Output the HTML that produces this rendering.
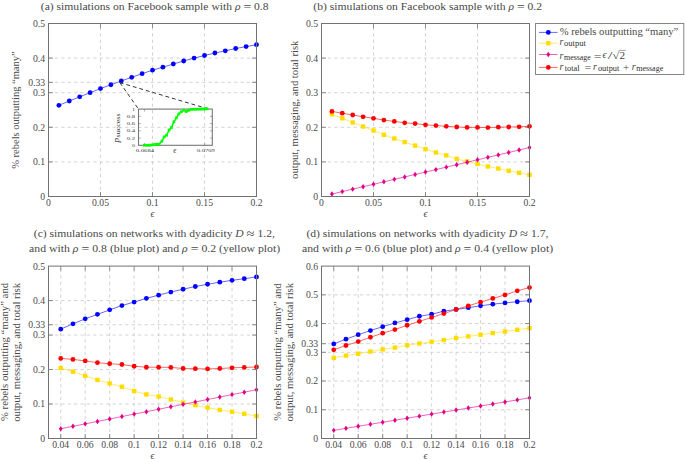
<!DOCTYPE html>
<html><head><meta charset="utf-8"><style>html,body{margin:0;padding:0;background:#fff;width:685px;height:459px;overflow:hidden}svg{display:block}text{font-family:"Liberation Serif",serif}</style></head><body>
<svg width="685" height="459" viewBox="0 0 685 459" font-family='"Liberation Serif", serif' fill="#484848">
<rect width="685" height="459" fill="#fff"/>
<line x1="100.5" y1="196.5" x2="100.5" y2="23.5" stroke="#c8c8c8" stroke-width="0.8" stroke-dasharray="3.2 3.2"/>
<line x1="152.5" y1="196.5" x2="152.5" y2="23.5" stroke="#c8c8c8" stroke-width="0.8" stroke-dasharray="3.2 3.2"/>
<line x1="204.5" y1="196.5" x2="204.5" y2="23.5" stroke="#c8c8c8" stroke-width="0.8" stroke-dasharray="3.2 3.2"/>
<line x1="48.5" y1="161.9" x2="256.5" y2="161.9" stroke="#c8c8c8" stroke-width="0.8" stroke-dasharray="3.2 3.2"/>
<line x1="48.5" y1="127.3" x2="256.5" y2="127.3" stroke="#c8c8c8" stroke-width="0.8" stroke-dasharray="3.2 3.2"/>
<line x1="48.5" y1="92.7" x2="256.5" y2="92.7" stroke="#c8c8c8" stroke-width="0.8" stroke-dasharray="3.2 3.2"/>
<line x1="48.5" y1="82.32" x2="256.5" y2="82.32" stroke="#c8c8c8" stroke-width="0.8" stroke-dasharray="3.2 3.2"/>
<line x1="48.5" y1="58.1" x2="256.5" y2="58.1" stroke="#c8c8c8" stroke-width="0.8" stroke-dasharray="3.2 3.2"/>
<line x1="373.5" y1="196.5" x2="373.5" y2="23.5" stroke="#c8c8c8" stroke-width="0.8" stroke-dasharray="3.2 3.2"/>
<line x1="425.5" y1="196.5" x2="425.5" y2="23.5" stroke="#c8c8c8" stroke-width="0.8" stroke-dasharray="3.2 3.2"/>
<line x1="477.5" y1="196.5" x2="477.5" y2="23.5" stroke="#c8c8c8" stroke-width="0.8" stroke-dasharray="3.2 3.2"/>
<line x1="321.5" y1="161.9" x2="529.5" y2="161.9" stroke="#c8c8c8" stroke-width="0.8" stroke-dasharray="3.2 3.2"/>
<line x1="321.5" y1="127.3" x2="529.5" y2="127.3" stroke="#c8c8c8" stroke-width="0.8" stroke-dasharray="3.2 3.2"/>
<line x1="321.5" y1="92.7" x2="529.5" y2="92.7" stroke="#c8c8c8" stroke-width="0.8" stroke-dasharray="3.2 3.2"/>
<line x1="321.5" y1="58.1" x2="529.5" y2="58.1" stroke="#c8c8c8" stroke-width="0.8" stroke-dasharray="3.2 3.2"/>
<line x1="60.74" y1="438.5" x2="60.74" y2="266.1" stroke="#c8c8c8" stroke-width="0.8" stroke-dasharray="3.2 3.2"/>
<line x1="85.21" y1="438.5" x2="85.21" y2="266.1" stroke="#c8c8c8" stroke-width="0.8" stroke-dasharray="3.2 3.2"/>
<line x1="109.68" y1="438.5" x2="109.68" y2="266.1" stroke="#c8c8c8" stroke-width="0.8" stroke-dasharray="3.2 3.2"/>
<line x1="134.15" y1="438.5" x2="134.15" y2="266.1" stroke="#c8c8c8" stroke-width="0.8" stroke-dasharray="3.2 3.2"/>
<line x1="158.62" y1="438.5" x2="158.62" y2="266.1" stroke="#c8c8c8" stroke-width="0.8" stroke-dasharray="3.2 3.2"/>
<line x1="183.09" y1="438.5" x2="183.09" y2="266.1" stroke="#c8c8c8" stroke-width="0.8" stroke-dasharray="3.2 3.2"/>
<line x1="207.56" y1="438.5" x2="207.56" y2="266.1" stroke="#c8c8c8" stroke-width="0.8" stroke-dasharray="3.2 3.2"/>
<line x1="232.03" y1="438.5" x2="232.03" y2="266.1" stroke="#c8c8c8" stroke-width="0.8" stroke-dasharray="3.2 3.2"/>
<line x1="48.5" y1="404.02" x2="256.5" y2="404.02" stroke="#c8c8c8" stroke-width="0.8" stroke-dasharray="3.2 3.2"/>
<line x1="48.5" y1="369.54" x2="256.5" y2="369.54" stroke="#c8c8c8" stroke-width="0.8" stroke-dasharray="3.2 3.2"/>
<line x1="48.5" y1="335.06" x2="256.5" y2="335.06" stroke="#c8c8c8" stroke-width="0.8" stroke-dasharray="3.2 3.2"/>
<line x1="48.5" y1="324.72" x2="256.5" y2="324.72" stroke="#c8c8c8" stroke-width="0.8" stroke-dasharray="3.2 3.2"/>
<line x1="48.5" y1="300.58" x2="256.5" y2="300.58" stroke="#c8c8c8" stroke-width="0.8" stroke-dasharray="3.2 3.2"/>
<line x1="333.74" y1="438.5" x2="333.74" y2="266.1" stroke="#c8c8c8" stroke-width="0.8" stroke-dasharray="3.2 3.2"/>
<line x1="358.21" y1="438.5" x2="358.21" y2="266.1" stroke="#c8c8c8" stroke-width="0.8" stroke-dasharray="3.2 3.2"/>
<line x1="382.68" y1="438.5" x2="382.68" y2="266.1" stroke="#c8c8c8" stroke-width="0.8" stroke-dasharray="3.2 3.2"/>
<line x1="407.15" y1="438.5" x2="407.15" y2="266.1" stroke="#c8c8c8" stroke-width="0.8" stroke-dasharray="3.2 3.2"/>
<line x1="431.62" y1="438.5" x2="431.62" y2="266.1" stroke="#c8c8c8" stroke-width="0.8" stroke-dasharray="3.2 3.2"/>
<line x1="456.09" y1="438.5" x2="456.09" y2="266.1" stroke="#c8c8c8" stroke-width="0.8" stroke-dasharray="3.2 3.2"/>
<line x1="480.56" y1="438.5" x2="480.56" y2="266.1" stroke="#c8c8c8" stroke-width="0.8" stroke-dasharray="3.2 3.2"/>
<line x1="505.03" y1="438.5" x2="505.03" y2="266.1" stroke="#c8c8c8" stroke-width="0.8" stroke-dasharray="3.2 3.2"/>
<line x1="321.5" y1="409.77" x2="529.5" y2="409.77" stroke="#c8c8c8" stroke-width="0.8" stroke-dasharray="3.2 3.2"/>
<line x1="321.5" y1="381.03" x2="529.5" y2="381.03" stroke="#c8c8c8" stroke-width="0.8" stroke-dasharray="3.2 3.2"/>
<line x1="321.5" y1="352.3" x2="529.5" y2="352.3" stroke="#c8c8c8" stroke-width="0.8" stroke-dasharray="3.2 3.2"/>
<line x1="321.5" y1="343.68" x2="529.5" y2="343.68" stroke="#c8c8c8" stroke-width="0.8" stroke-dasharray="3.2 3.2"/>
<line x1="321.5" y1="323.57" x2="529.5" y2="323.57" stroke="#c8c8c8" stroke-width="0.8" stroke-dasharray="3.2 3.2"/>
<line x1="321.5" y1="294.83" x2="529.5" y2="294.83" stroke="#c8c8c8" stroke-width="0.8" stroke-dasharray="3.2 3.2"/>
<path d="M100.5 196.5v-4.5M100.5 23.5v4.5M152.5 196.5v-4.5M152.5 23.5v4.5M204.5 196.5v-4.5M204.5 23.5v4.5M48.5 161.9h4.5M256.5 161.9h-4.5M48.5 127.3h4.5M256.5 127.3h-4.5M48.5 92.7h4.5M256.5 92.7h-4.5M48.5 82.32h4.5M256.5 82.32h-4.5M48.5 58.1h4.5M256.5 58.1h-4.5" stroke="#727272" stroke-width="0.8" fill="none"/>
<path d="M373.5 196.5v-4.5M373.5 23.5v4.5M425.5 196.5v-4.5M425.5 23.5v4.5M477.5 196.5v-4.5M477.5 23.5v4.5M321.5 161.9h4.5M529.5 161.9h-4.5M321.5 127.3h4.5M529.5 127.3h-4.5M321.5 92.7h4.5M529.5 92.7h-4.5M321.5 58.1h4.5M529.5 58.1h-4.5" stroke="#727272" stroke-width="0.8" fill="none"/>
<path d="M60.74 438.5v-4.5M60.74 266.1v4.5M85.21 438.5v-4.5M85.21 266.1v4.5M109.68 438.5v-4.5M109.68 266.1v4.5M134.15 438.5v-4.5M134.15 266.1v4.5M158.62 438.5v-4.5M158.62 266.1v4.5M183.09 438.5v-4.5M183.09 266.1v4.5M207.56 438.5v-4.5M207.56 266.1v4.5M232.03 438.5v-4.5M232.03 266.1v4.5M48.5 404.02h4.5M256.5 404.02h-4.5M48.5 369.54h4.5M256.5 369.54h-4.5M48.5 335.06h4.5M256.5 335.06h-4.5M48.5 324.72h4.5M256.5 324.72h-4.5M48.5 300.58h4.5M256.5 300.58h-4.5" stroke="#727272" stroke-width="0.8" fill="none"/>
<path d="M333.74 438.5v-4.5M333.74 266.1v4.5M358.21 438.5v-4.5M358.21 266.1v4.5M382.68 438.5v-4.5M382.68 266.1v4.5M407.15 438.5v-4.5M407.15 266.1v4.5M431.62 438.5v-4.5M431.62 266.1v4.5M456.09 438.5v-4.5M456.09 266.1v4.5M480.56 438.5v-4.5M480.56 266.1v4.5M505.03 438.5v-4.5M505.03 266.1v4.5M321.5 409.77h4.5M529.5 409.77h-4.5M321.5 381.03h4.5M529.5 381.03h-4.5M321.5 352.3h4.5M529.5 352.3h-4.5M321.5 343.68h4.5M529.5 343.68h-4.5M321.5 323.57h4.5M529.5 323.57h-4.5M321.5 294.83h4.5M529.5 294.83h-4.5" stroke="#727272" stroke-width="0.8" fill="none"/>
<polyline points="58.9,105.29 69.3,101 79.7,96.85 90.1,92.7 100.5,88.55 110.9,84.74 121.3,80.94 131.7,77.3 142.1,73.67 152.5,70.21 162.9,67.2 173.3,63.98 183.7,61.01 194.1,58.1 204.5,55.5 214.9,53.01 225.3,50.83 235.7,48.52 246.1,46.61 256.5,44.71" fill="none" stroke="#0000ff" stroke-width="0.6"/>
<circle cx="58.9" cy="105.29" r="2.4" fill="#0000ff"/>
<circle cx="69.3" cy="101" r="2.4" fill="#0000ff"/>
<circle cx="79.7" cy="96.85" r="2.4" fill="#0000ff"/>
<circle cx="90.1" cy="92.7" r="2.4" fill="#0000ff"/>
<circle cx="100.5" cy="88.55" r="2.4" fill="#0000ff"/>
<circle cx="110.9" cy="84.74" r="2.4" fill="#0000ff"/>
<circle cx="121.3" cy="80.94" r="2.4" fill="#0000ff"/>
<circle cx="131.7" cy="77.3" r="2.4" fill="#0000ff"/>
<circle cx="142.1" cy="73.67" r="2.4" fill="#0000ff"/>
<circle cx="152.5" cy="70.21" r="2.4" fill="#0000ff"/>
<circle cx="162.9" cy="67.2" r="2.4" fill="#0000ff"/>
<circle cx="173.3" cy="63.98" r="2.4" fill="#0000ff"/>
<circle cx="183.7" cy="61.01" r="2.4" fill="#0000ff"/>
<circle cx="194.1" cy="58.1" r="2.4" fill="#0000ff"/>
<circle cx="204.5" cy="55.5" r="2.4" fill="#0000ff"/>
<circle cx="214.9" cy="53.01" r="2.4" fill="#0000ff"/>
<circle cx="225.3" cy="50.83" r="2.4" fill="#0000ff"/>
<circle cx="235.7" cy="48.52" r="2.4" fill="#0000ff"/>
<circle cx="246.1" cy="46.61" r="2.4" fill="#0000ff"/>
<circle cx="256.5" cy="44.71" r="2.4" fill="#0000ff"/>
<polyline points="331.9,114.29 342.3,118.3 352.7,122.49 363.1,126.5 373.5,130.48 383.9,134.81 394.3,138.51 404.7,142.11 415.1,145.6 425.5,149.1 435.9,152.49 446.3,155.4 456.7,158.79 467.1,161.42 477.5,163.91 487.9,166.5 498.3,168.51 508.7,170.79 519.1,172.8 529.5,174.81" fill="none" stroke="#ffdc00" stroke-width="0.6"/>
<rect x="329.7" y="112.09" width="4.4" height="4.4" fill="#ffdc00"/>
<rect x="340.1" y="116.1" width="4.4" height="4.4" fill="#ffdc00"/>
<rect x="350.5" y="120.29" width="4.4" height="4.4" fill="#ffdc00"/>
<rect x="360.9" y="124.3" width="4.4" height="4.4" fill="#ffdc00"/>
<rect x="371.3" y="128.28" width="4.4" height="4.4" fill="#ffdc00"/>
<rect x="381.7" y="132.61" width="4.4" height="4.4" fill="#ffdc00"/>
<rect x="392.1" y="136.31" width="4.4" height="4.4" fill="#ffdc00"/>
<rect x="402.5" y="139.91" width="4.4" height="4.4" fill="#ffdc00"/>
<rect x="412.9" y="143.4" width="4.4" height="4.4" fill="#ffdc00"/>
<rect x="423.3" y="146.9" width="4.4" height="4.4" fill="#ffdc00"/>
<rect x="433.7" y="150.29" width="4.4" height="4.4" fill="#ffdc00"/>
<rect x="444.1" y="153.2" width="4.4" height="4.4" fill="#ffdc00"/>
<rect x="454.5" y="156.59" width="4.4" height="4.4" fill="#ffdc00"/>
<rect x="464.9" y="159.22" width="4.4" height="4.4" fill="#ffdc00"/>
<rect x="475.3" y="161.71" width="4.4" height="4.4" fill="#ffdc00"/>
<rect x="485.7" y="164.3" width="4.4" height="4.4" fill="#ffdc00"/>
<rect x="496.1" y="166.31" width="4.4" height="4.4" fill="#ffdc00"/>
<rect x="506.5" y="168.59" width="4.4" height="4.4" fill="#ffdc00"/>
<rect x="516.9" y="170.6" width="4.4" height="4.4" fill="#ffdc00"/>
<rect x="527.3" y="172.61" width="4.4" height="4.4" fill="#ffdc00"/>
<polyline points="331.9,194.05 342.3,191.61 352.7,189.16 363.1,186.71 373.5,184.27 383.9,181.82 394.3,179.37 404.7,176.93 415.1,174.48 425.5,172.03 435.9,169.59 446.3,167.14 456.7,164.69 467.1,162.25 477.5,159.8 487.9,157.35 498.3,154.91 508.7,152.46 519.1,150.01 529.5,147.57" fill="none" stroke="#e0008a" stroke-width="0.6"/>
<path d="M331.9 191.35L333.8 194.05L331.9 196.75L330 194.05Z" fill="#e0008a"/>
<path d="M342.3 188.91L344.2 191.61L342.3 194.31L340.4 191.61Z" fill="#e0008a"/>
<path d="M352.7 186.46L354.6 189.16L352.7 191.86L350.8 189.16Z" fill="#e0008a"/>
<path d="M363.1 184.01L365 186.71L363.1 189.41L361.2 186.71Z" fill="#e0008a"/>
<path d="M373.5 181.57L375.4 184.27L373.5 186.97L371.6 184.27Z" fill="#e0008a"/>
<path d="M383.9 179.12L385.8 181.82L383.9 184.52L382 181.82Z" fill="#e0008a"/>
<path d="M394.3 176.67L396.2 179.37L394.3 182.07L392.4 179.37Z" fill="#e0008a"/>
<path d="M404.7 174.23L406.6 176.93L404.7 179.63L402.8 176.93Z" fill="#e0008a"/>
<path d="M415.1 171.78L417 174.48L415.1 177.18L413.2 174.48Z" fill="#e0008a"/>
<path d="M425.5 169.33L427.4 172.03L425.5 174.73L423.6 172.03Z" fill="#e0008a"/>
<path d="M435.9 166.89L437.8 169.59L435.9 172.29L434 169.59Z" fill="#e0008a"/>
<path d="M446.3 164.44L448.2 167.14L446.3 169.84L444.4 167.14Z" fill="#e0008a"/>
<path d="M456.7 161.99L458.6 164.69L456.7 167.39L454.8 164.69Z" fill="#e0008a"/>
<path d="M467.1 159.55L469 162.25L467.1 164.95L465.2 162.25Z" fill="#e0008a"/>
<path d="M477.5 157.1L479.4 159.8L477.5 162.5L475.6 159.8Z" fill="#e0008a"/>
<path d="M487.9 154.65L489.8 157.35L487.9 160.05L486 157.35Z" fill="#e0008a"/>
<path d="M498.3 152.21L500.2 154.91L498.3 157.61L496.4 154.91Z" fill="#e0008a"/>
<path d="M508.7 149.76L510.6 152.46L508.7 155.16L506.8 152.46Z" fill="#e0008a"/>
<path d="M519.1 147.31L521 150.01L519.1 152.71L517.2 150.01Z" fill="#e0008a"/>
<path d="M529.5 144.87L531.4 147.57L529.5 150.27L527.6 147.57Z" fill="#e0008a"/>
<polyline points="331.9,111.38 342.3,113.22 352.7,115.02 363.1,116.82 373.5,118.3 383.9,120.1 394.3,121.42 404.7,122.8 415.1,123.6 425.5,124.81 435.9,125.6 446.3,126.3 456.7,126.99 467.1,127.4 477.5,127.4 487.9,127.61 498.3,127.2 508.7,126.99 519.1,126.82 529.5,126.3" fill="none" stroke="#ff0000" stroke-width="0.6"/>
<circle cx="331.9" cy="111.38" r="2.4" fill="#ff0000"/>
<circle cx="342.3" cy="113.22" r="2.4" fill="#ff0000"/>
<circle cx="352.7" cy="115.02" r="2.4" fill="#ff0000"/>
<circle cx="363.1" cy="116.82" r="2.4" fill="#ff0000"/>
<circle cx="373.5" cy="118.3" r="2.4" fill="#ff0000"/>
<circle cx="383.9" cy="120.1" r="2.4" fill="#ff0000"/>
<circle cx="394.3" cy="121.42" r="2.4" fill="#ff0000"/>
<circle cx="404.7" cy="122.8" r="2.4" fill="#ff0000"/>
<circle cx="415.1" cy="123.6" r="2.4" fill="#ff0000"/>
<circle cx="425.5" cy="124.81" r="2.4" fill="#ff0000"/>
<circle cx="435.9" cy="125.6" r="2.4" fill="#ff0000"/>
<circle cx="446.3" cy="126.3" r="2.4" fill="#ff0000"/>
<circle cx="456.7" cy="126.99" r="2.4" fill="#ff0000"/>
<circle cx="467.1" cy="127.4" r="2.4" fill="#ff0000"/>
<circle cx="477.5" cy="127.4" r="2.4" fill="#ff0000"/>
<circle cx="487.9" cy="127.61" r="2.4" fill="#ff0000"/>
<circle cx="498.3" cy="127.2" r="2.4" fill="#ff0000"/>
<circle cx="508.7" cy="126.99" r="2.4" fill="#ff0000"/>
<circle cx="519.1" cy="126.82" r="2.4" fill="#ff0000"/>
<circle cx="529.5" cy="126.3" r="2.4" fill="#ff0000"/>
<polyline points="60.74,329.13 72.97,323.79 85.21,318.85 97.44,314.37 109.68,309.86 121.91,305.55 134.15,302.03 146.38,298.34 158.62,295.13 170.85,292.03 183.09,289.24 195.32,286.51 207.56,284.24 219.79,282.2 232.03,280.31 244.26,278.72 256.5,276.93" fill="none" stroke="#0000ff" stroke-width="0.6"/>
<circle cx="60.74" cy="329.13" r="2.4" fill="#0000ff"/>
<circle cx="72.97" cy="323.79" r="2.4" fill="#0000ff"/>
<circle cx="85.21" cy="318.85" r="2.4" fill="#0000ff"/>
<circle cx="97.44" cy="314.37" r="2.4" fill="#0000ff"/>
<circle cx="109.68" cy="309.86" r="2.4" fill="#0000ff"/>
<circle cx="121.91" cy="305.55" r="2.4" fill="#0000ff"/>
<circle cx="134.15" cy="302.03" r="2.4" fill="#0000ff"/>
<circle cx="146.38" cy="298.34" r="2.4" fill="#0000ff"/>
<circle cx="158.62" cy="295.13" r="2.4" fill="#0000ff"/>
<circle cx="170.85" cy="292.03" r="2.4" fill="#0000ff"/>
<circle cx="183.09" cy="289.24" r="2.4" fill="#0000ff"/>
<circle cx="195.32" cy="286.51" r="2.4" fill="#0000ff"/>
<circle cx="207.56" cy="284.24" r="2.4" fill="#0000ff"/>
<circle cx="219.79" cy="282.2" r="2.4" fill="#0000ff"/>
<circle cx="232.03" cy="280.31" r="2.4" fill="#0000ff"/>
<circle cx="244.26" cy="278.72" r="2.4" fill="#0000ff"/>
<circle cx="256.5" cy="276.93" r="2.4" fill="#0000ff"/>
<polyline points="60.74,368.02 72.97,371.71 85.21,375.82 97.44,379.92 109.68,383.44 121.91,386.75 134.15,391.06 146.38,394.43 158.62,396.54 170.85,399.47 183.09,402.57 195.32,405.16 207.56,407.67 219.79,409.95 232.03,411.78 244.26,413.78 256.5,416.09" fill="none" stroke="#ffdc00" stroke-width="0.6"/>
<rect x="58.54" y="365.82" width="4.4" height="4.4" fill="#ffdc00"/>
<rect x="70.77" y="369.51" width="4.4" height="4.4" fill="#ffdc00"/>
<rect x="83.01" y="373.62" width="4.4" height="4.4" fill="#ffdc00"/>
<rect x="95.24" y="377.72" width="4.4" height="4.4" fill="#ffdc00"/>
<rect x="107.48" y="381.24" width="4.4" height="4.4" fill="#ffdc00"/>
<rect x="119.71" y="384.55" width="4.4" height="4.4" fill="#ffdc00"/>
<rect x="131.95" y="388.86" width="4.4" height="4.4" fill="#ffdc00"/>
<rect x="144.18" y="392.23" width="4.4" height="4.4" fill="#ffdc00"/>
<rect x="156.42" y="394.34" width="4.4" height="4.4" fill="#ffdc00"/>
<rect x="168.65" y="397.27" width="4.4" height="4.4" fill="#ffdc00"/>
<rect x="180.89" y="400.37" width="4.4" height="4.4" fill="#ffdc00"/>
<rect x="193.12" y="402.96" width="4.4" height="4.4" fill="#ffdc00"/>
<rect x="205.36" y="405.47" width="4.4" height="4.4" fill="#ffdc00"/>
<rect x="217.59" y="407.75" width="4.4" height="4.4" fill="#ffdc00"/>
<rect x="229.83" y="409.58" width="4.4" height="4.4" fill="#ffdc00"/>
<rect x="242.06" y="411.58" width="4.4" height="4.4" fill="#ffdc00"/>
<rect x="254.3" y="413.89" width="4.4" height="4.4" fill="#ffdc00"/>
<polyline points="60.74,428.75 72.97,426.31 85.21,423.87 97.44,421.43 109.68,419 121.91,416.56 134.15,414.12 146.38,411.68 158.62,409.24 170.85,406.8 183.09,404.37 195.32,401.93 207.56,399.49 219.79,397.05 232.03,394.61 244.26,392.18 256.5,389.74" fill="none" stroke="#e0008a" stroke-width="0.6"/>
<path d="M60.74 426.05L62.64 428.75L60.74 431.45L58.84 428.75Z" fill="#e0008a"/>
<path d="M72.97 423.61L74.87 426.31L72.97 429.01L71.07 426.31Z" fill="#e0008a"/>
<path d="M85.21 421.17L87.11 423.87L85.21 426.57L83.31 423.87Z" fill="#e0008a"/>
<path d="M97.44 418.73L99.34 421.43L97.44 424.13L95.54 421.43Z" fill="#e0008a"/>
<path d="M109.68 416.3L111.58 419L109.68 421.7L107.78 419Z" fill="#e0008a"/>
<path d="M121.91 413.86L123.81 416.56L121.91 419.26L120.01 416.56Z" fill="#e0008a"/>
<path d="M134.15 411.42L136.05 414.12L134.15 416.82L132.25 414.12Z" fill="#e0008a"/>
<path d="M146.38 408.98L148.28 411.68L146.38 414.38L144.48 411.68Z" fill="#e0008a"/>
<path d="M158.62 406.54L160.52 409.24L158.62 411.94L156.72 409.24Z" fill="#e0008a"/>
<path d="M170.85 404.1L172.75 406.8L170.85 409.5L168.95 406.8Z" fill="#e0008a"/>
<path d="M183.09 401.67L184.99 404.37L183.09 407.07L181.19 404.37Z" fill="#e0008a"/>
<path d="M195.32 399.23L197.22 401.93L195.32 404.63L193.42 401.93Z" fill="#e0008a"/>
<path d="M207.56 396.79L209.46 399.49L207.56 402.19L205.66 399.49Z" fill="#e0008a"/>
<path d="M219.79 394.35L221.69 397.05L219.79 399.75L217.89 397.05Z" fill="#e0008a"/>
<path d="M232.03 391.91L233.93 394.61L232.03 397.31L230.13 394.61Z" fill="#e0008a"/>
<path d="M244.26 389.48L246.16 392.18L244.26 394.88L242.36 392.18Z" fill="#e0008a"/>
<path d="M256.5 387.04L258.4 389.74L256.5 392.44L254.6 389.74Z" fill="#e0008a"/>
<polyline points="60.74,358.4 72.97,359.4 85.21,360.92 97.44,362.71 109.68,363.71 121.91,364.51 134.15,366.23 146.38,367.23 158.62,367.23 170.85,367.4 183.09,368.51 195.32,368.71 207.56,368.92 219.79,368.51 232.03,367.82 244.26,367.4 256.5,367.02" fill="none" stroke="#ff0000" stroke-width="0.6"/>
<circle cx="60.74" cy="358.4" r="2.4" fill="#ff0000"/>
<circle cx="72.97" cy="359.4" r="2.4" fill="#ff0000"/>
<circle cx="85.21" cy="360.92" r="2.4" fill="#ff0000"/>
<circle cx="97.44" cy="362.71" r="2.4" fill="#ff0000"/>
<circle cx="109.68" cy="363.71" r="2.4" fill="#ff0000"/>
<circle cx="121.91" cy="364.51" r="2.4" fill="#ff0000"/>
<circle cx="134.15" cy="366.23" r="2.4" fill="#ff0000"/>
<circle cx="146.38" cy="367.23" r="2.4" fill="#ff0000"/>
<circle cx="158.62" cy="367.23" r="2.4" fill="#ff0000"/>
<circle cx="170.85" cy="367.4" r="2.4" fill="#ff0000"/>
<circle cx="183.09" cy="368.51" r="2.4" fill="#ff0000"/>
<circle cx="195.32" cy="368.71" r="2.4" fill="#ff0000"/>
<circle cx="207.56" cy="368.92" r="2.4" fill="#ff0000"/>
<circle cx="219.79" cy="368.51" r="2.4" fill="#ff0000"/>
<circle cx="232.03" cy="367.82" r="2.4" fill="#ff0000"/>
<circle cx="244.26" cy="367.4" r="2.4" fill="#ff0000"/>
<circle cx="256.5" cy="367.02" r="2.4" fill="#ff0000"/>
<polyline points="333.74,343.88 345.97,339.2 358.21,334.69 370.44,330.58 382.68,326.67 394.91,322.96 407.15,319.66 419.38,316.27 431.62,314.26 443.85,311.15 456.09,309.46 468.32,307.65 480.56,305.84 492.79,304.14 505.03,302.94 517.26,301.73 529.5,300.64" fill="none" stroke="#0000ff" stroke-width="0.6"/>
<circle cx="333.74" cy="343.88" r="2.4" fill="#0000ff"/>
<circle cx="345.97" cy="339.2" r="2.4" fill="#0000ff"/>
<circle cx="358.21" cy="334.69" r="2.4" fill="#0000ff"/>
<circle cx="370.44" cy="330.58" r="2.4" fill="#0000ff"/>
<circle cx="382.68" cy="326.67" r="2.4" fill="#0000ff"/>
<circle cx="394.91" cy="322.96" r="2.4" fill="#0000ff"/>
<circle cx="407.15" cy="319.66" r="2.4" fill="#0000ff"/>
<circle cx="419.38" cy="316.27" r="2.4" fill="#0000ff"/>
<circle cx="431.62" cy="314.26" r="2.4" fill="#0000ff"/>
<circle cx="443.85" cy="311.15" r="2.4" fill="#0000ff"/>
<circle cx="456.09" cy="309.46" r="2.4" fill="#0000ff"/>
<circle cx="468.32" cy="307.65" r="2.4" fill="#0000ff"/>
<circle cx="480.56" cy="305.84" r="2.4" fill="#0000ff"/>
<circle cx="492.79" cy="304.14" r="2.4" fill="#0000ff"/>
<circle cx="505.03" cy="302.94" r="2.4" fill="#0000ff"/>
<circle cx="517.26" cy="301.73" r="2.4" fill="#0000ff"/>
<circle cx="529.5" cy="300.64" r="2.4" fill="#0000ff"/>
<polyline points="333.74,357.82 345.97,355.6 358.21,353.71 370.44,351.5 382.68,349.4 394.91,347.59 407.15,345.29 419.38,343.48 431.62,341.9 443.85,340.09 456.09,337.99 468.32,336.38 480.56,334.69 492.79,333.08 505.03,331.47 517.26,329.77 529.5,328.16" fill="none" stroke="#ffdc00" stroke-width="0.6"/>
<rect x="331.54" y="355.62" width="4.4" height="4.4" fill="#ffdc00"/>
<rect x="343.77" y="353.4" width="4.4" height="4.4" fill="#ffdc00"/>
<rect x="356.01" y="351.51" width="4.4" height="4.4" fill="#ffdc00"/>
<rect x="368.24" y="349.3" width="4.4" height="4.4" fill="#ffdc00"/>
<rect x="380.48" y="347.2" width="4.4" height="4.4" fill="#ffdc00"/>
<rect x="392.71" y="345.39" width="4.4" height="4.4" fill="#ffdc00"/>
<rect x="404.95" y="343.09" width="4.4" height="4.4" fill="#ffdc00"/>
<rect x="417.18" y="341.28" width="4.4" height="4.4" fill="#ffdc00"/>
<rect x="429.42" y="339.7" width="4.4" height="4.4" fill="#ffdc00"/>
<rect x="441.65" y="337.89" width="4.4" height="4.4" fill="#ffdc00"/>
<rect x="453.89" y="335.79" width="4.4" height="4.4" fill="#ffdc00"/>
<rect x="466.12" y="334.18" width="4.4" height="4.4" fill="#ffdc00"/>
<rect x="478.36" y="332.49" width="4.4" height="4.4" fill="#ffdc00"/>
<rect x="490.59" y="330.88" width="4.4" height="4.4" fill="#ffdc00"/>
<rect x="502.83" y="329.27" width="4.4" height="4.4" fill="#ffdc00"/>
<rect x="515.06" y="327.57" width="4.4" height="4.4" fill="#ffdc00"/>
<rect x="527.3" y="325.96" width="4.4" height="4.4" fill="#ffdc00"/>
<polyline points="333.74,430.37 345.97,428.34 358.21,426.31 370.44,424.28 382.68,422.25 394.91,420.21 407.15,418.18 419.38,416.15 431.62,414.12 443.85,412.09 456.09,410.06 468.32,408.02 480.56,405.99 492.79,403.96 505.03,401.93 517.26,399.9 529.5,397.86" fill="none" stroke="#e0008a" stroke-width="0.6"/>
<path d="M333.74 427.67L335.64 430.37L333.74 433.07L331.84 430.37Z" fill="#e0008a"/>
<path d="M345.97 425.64L347.87 428.34L345.97 431.04L344.07 428.34Z" fill="#e0008a"/>
<path d="M358.21 423.61L360.11 426.31L358.21 429.01L356.31 426.31Z" fill="#e0008a"/>
<path d="M370.44 421.58L372.34 424.28L370.44 426.98L368.54 424.28Z" fill="#e0008a"/>
<path d="M382.68 419.55L384.58 422.25L382.68 424.95L380.78 422.25Z" fill="#e0008a"/>
<path d="M394.91 417.51L396.81 420.21L394.91 422.91L393.01 420.21Z" fill="#e0008a"/>
<path d="M407.15 415.48L409.05 418.18L407.15 420.88L405.25 418.18Z" fill="#e0008a"/>
<path d="M419.38 413.45L421.28 416.15L419.38 418.85L417.48 416.15Z" fill="#e0008a"/>
<path d="M431.62 411.42L433.52 414.12L431.62 416.82L429.72 414.12Z" fill="#e0008a"/>
<path d="M443.85 409.39L445.75 412.09L443.85 414.79L441.95 412.09Z" fill="#e0008a"/>
<path d="M456.09 407.36L457.99 410.06L456.09 412.76L454.19 410.06Z" fill="#e0008a"/>
<path d="M468.32 405.32L470.22 408.02L468.32 410.72L466.42 408.02Z" fill="#e0008a"/>
<path d="M480.56 403.29L482.46 405.99L480.56 408.69L478.66 405.99Z" fill="#e0008a"/>
<path d="M492.79 401.26L494.69 403.96L492.79 406.66L490.89 403.96Z" fill="#e0008a"/>
<path d="M505.03 399.23L506.93 401.93L505.03 404.63L503.13 401.93Z" fill="#e0008a"/>
<path d="M517.26 397.2L519.16 399.9L517.26 402.6L515.36 399.9Z" fill="#e0008a"/>
<path d="M529.5 395.16L531.4 397.86L529.5 400.56L527.6 397.86Z" fill="#e0008a"/>
<polyline points="333.74,349.8 345.97,345.49 358.21,341.58 370.44,337.27 382.68,333.16 394.91,329.57 407.15,325.26 419.38,321.35 431.62,317.45 443.85,313.57 456.09,309.46 468.32,305.84 480.56,302.13 492.79,298.43 505.03,294.92 517.26,290.84 529.5,287.54" fill="none" stroke="#ff0000" stroke-width="0.6"/>
<circle cx="333.74" cy="349.8" r="2.4" fill="#ff0000"/>
<circle cx="345.97" cy="345.49" r="2.4" fill="#ff0000"/>
<circle cx="358.21" cy="341.58" r="2.4" fill="#ff0000"/>
<circle cx="370.44" cy="337.27" r="2.4" fill="#ff0000"/>
<circle cx="382.68" cy="333.16" r="2.4" fill="#ff0000"/>
<circle cx="394.91" cy="329.57" r="2.4" fill="#ff0000"/>
<circle cx="407.15" cy="325.26" r="2.4" fill="#ff0000"/>
<circle cx="419.38" cy="321.35" r="2.4" fill="#ff0000"/>
<circle cx="431.62" cy="317.45" r="2.4" fill="#ff0000"/>
<circle cx="443.85" cy="313.57" r="2.4" fill="#ff0000"/>
<circle cx="456.09" cy="309.46" r="2.4" fill="#ff0000"/>
<circle cx="468.32" cy="305.84" r="2.4" fill="#ff0000"/>
<circle cx="480.56" cy="302.13" r="2.4" fill="#ff0000"/>
<circle cx="492.79" cy="298.43" r="2.4" fill="#ff0000"/>
<circle cx="505.03" cy="294.92" r="2.4" fill="#ff0000"/>
<circle cx="517.26" cy="290.84" r="2.4" fill="#ff0000"/>
<circle cx="529.5" cy="287.54" r="2.4" fill="#ff0000"/>
<rect x="48.5" y="23.5" width="208" height="173" fill="none" stroke="#727272" stroke-width="1.0"/>
<rect x="321.5" y="23.5" width="208" height="173" fill="none" stroke="#727272" stroke-width="1.0"/>
<rect x="48.5" y="266.1" width="208" height="172.4" fill="none" stroke="#727272" stroke-width="1.0"/>
<rect x="321.5" y="266.1" width="208" height="172.4" fill="none" stroke="#727272" stroke-width="1.0"/>
<path d="M119.8 82.6L138.5 109.1M119.8 82.6L207.2 108.6" stroke="#333" stroke-width="1" stroke-dasharray="3.8 3" fill="none"/>
<rect x="138.5" y="109.1" width="73.8" height="36.2" fill="none" stroke="#777" stroke-width="1.1"/>
<path d="M138.5 138.06h2.3M212.3 138.06h-2.3M138.5 130.82h2.3M212.3 130.82h-2.3M138.5 123.58h2.3M212.3 123.58h-2.3M138.5 116.34h2.3M212.3 116.34h-2.3M144.5 145.3v-2.3M144.5 109.1v2.3M204.8 145.3v-2.3M204.8 109.1v2.3" stroke="#777" stroke-width="0.6" fill="none"/>
<polyline points="144.3,145.2 146.7,145.3 149.2,145.3 151.6,145.0 154.1,144.5 156.5,144.3 159.0,144.2 161.9,141.1 164.2,136.9 166.6,135.2 169.1,130.0 171.5,127.5 173.9,121.8 176.4,117.8 178.8,113.9 181.3,111.8 183.7,110.1 186.2,111.6 188.6,110.3 191.1,109.4 193.5,109.3 196.0,109.3 198.4,109.2 200.9,109.1 203.3,109.0 205.8,108.8 207.1,108.8" fill="none" stroke="#00ff00" stroke-width="1.6" stroke-linejoin="round"/>
<rect x="142.95" y="143.85" width="2.7" height="2.7" fill="#00ff00"/>
<rect x="145.35" y="143.95" width="2.7" height="2.7" fill="#00ff00"/>
<rect x="147.85" y="143.95" width="2.7" height="2.7" fill="#00ff00"/>
<rect x="150.25" y="143.65" width="2.7" height="2.7" fill="#00ff00"/>
<rect x="152.75" y="143.15" width="2.7" height="2.7" fill="#00ff00"/>
<rect x="155.15" y="142.95" width="2.7" height="2.7" fill="#00ff00"/>
<rect x="157.65" y="142.85" width="2.7" height="2.7" fill="#00ff00"/>
<rect x="160.55" y="139.75" width="2.7" height="2.7" fill="#00ff00"/>
<rect x="162.85" y="135.55" width="2.7" height="2.7" fill="#00ff00"/>
<rect x="165.25" y="133.85" width="2.7" height="2.7" fill="#00ff00"/>
<rect x="167.75" y="128.65" width="2.7" height="2.7" fill="#00ff00"/>
<rect x="170.15" y="126.15" width="2.7" height="2.7" fill="#00ff00"/>
<rect x="172.55" y="120.45" width="2.7" height="2.7" fill="#00ff00"/>
<rect x="175.05" y="116.45" width="2.7" height="2.7" fill="#00ff00"/>
<rect x="177.45" y="112.55" width="2.7" height="2.7" fill="#00ff00"/>
<rect x="179.95" y="110.45" width="2.7" height="2.7" fill="#00ff00"/>
<rect x="182.35" y="108.75" width="2.7" height="2.7" fill="#00ff00"/>
<rect x="184.85" y="110.25" width="2.7" height="2.7" fill="#00ff00"/>
<rect x="187.25" y="108.95" width="2.7" height="2.7" fill="#00ff00"/>
<rect x="189.75" y="108.05" width="2.7" height="2.7" fill="#00ff00"/>
<rect x="192.15" y="107.95" width="2.7" height="2.7" fill="#00ff00"/>
<rect x="194.65" y="107.95" width="2.7" height="2.7" fill="#00ff00"/>
<rect x="197.05" y="107.85" width="2.7" height="2.7" fill="#00ff00"/>
<rect x="199.55" y="107.75" width="2.7" height="2.7" fill="#00ff00"/>
<rect x="201.95" y="107.65" width="2.7" height="2.7" fill="#00ff00"/>
<rect x="204.45" y="107.45" width="2.7" height="2.7" fill="#00ff00"/>
<rect x="205.75" y="107.45" width="2.7" height="2.7" fill="#00ff00"/>
<text x="135" y="146.9" font-size="5" text-anchor="end" textLength="3.0" lengthAdjust="spacingAndGlyphs" fill="#3a3a3a">0</text>
<text x="135" y="139.66" font-size="5" text-anchor="end" textLength="8.3" lengthAdjust="spacingAndGlyphs" fill="#3a3a3a">0.2</text>
<text x="135" y="132.42" font-size="5" text-anchor="end" textLength="8.3" lengthAdjust="spacingAndGlyphs" fill="#3a3a3a">0.4</text>
<text x="135" y="125.18" font-size="5" text-anchor="end" textLength="8.3" lengthAdjust="spacingAndGlyphs" fill="#3a3a3a">0.6</text>
<text x="135" y="117.94" font-size="5" text-anchor="end" textLength="8.3" lengthAdjust="spacingAndGlyphs" fill="#3a3a3a">0.8</text>
<text x="135" y="110.7" font-size="5" text-anchor="end" textLength="3.0" lengthAdjust="spacingAndGlyphs" fill="#3a3a3a">1</text>
<text x="135.7" y="152.2" font-size="5" textLength="18.4" lengthAdjust="spacingAndGlyphs" fill="#3a3a3a">0.0684</text>
<text x="196.8" y="152.2" font-size="5" textLength="18.1" lengthAdjust="spacingAndGlyphs" fill="#3a3a3a">0.0709</text>
<text x="173.3" y="153.4" font-size="8" font-style="italic">&#1013;</text>
<text transform="translate(118.9 142.4) rotate(-90)" font-size="9" font-style="italic" fill="#2a2a2a">p</text>
<text transform="translate(120.3 137.4) rotate(-90)" font-size="6.3" textLength="24" lengthAdjust="spacingAndGlyphs" fill="#2a2a2a">success</text>
<text x="48.5" y="206.4" font-size="9.7" text-anchor="middle">0</text>
<text x="100.5" y="206.4" font-size="9.7" text-anchor="middle">0.05</text>
<text x="152.5" y="206.4" font-size="9.7" text-anchor="middle">0.1</text>
<text x="204.5" y="206.4" font-size="9.7" text-anchor="middle">0.15</text>
<text x="256.5" y="206.4" font-size="9.7" text-anchor="middle">0.2</text>
<text x="45.1" y="199.9" font-size="9.7" text-anchor="end">0</text>
<text x="45.1" y="165.3" font-size="9.7" text-anchor="end">0.1</text>
<text x="45.1" y="130.7" font-size="9.7" text-anchor="end">0.2</text>
<text x="45.1" y="96.1" font-size="9.7" text-anchor="end">0.3</text>
<text x="45.1" y="85.72" font-size="9.7" text-anchor="end">0.33</text>
<text x="45.1" y="61.5" font-size="9.7" text-anchor="end">0.4</text>
<text x="45.1" y="26.9" font-size="9.7" text-anchor="end">0.5</text>
<text x="321.5" y="206.4" font-size="9.7" text-anchor="middle">0</text>
<text x="373.5" y="206.4" font-size="9.7" text-anchor="middle">0.05</text>
<text x="425.5" y="206.4" font-size="9.7" text-anchor="middle">0.1</text>
<text x="477.5" y="206.4" font-size="9.7" text-anchor="middle">0.15</text>
<text x="529.5" y="206.4" font-size="9.7" text-anchor="middle">0.2</text>
<text x="318.1" y="199.9" font-size="9.7" text-anchor="end">0</text>
<text x="318.1" y="165.3" font-size="9.7" text-anchor="end">0.1</text>
<text x="318.1" y="130.7" font-size="9.7" text-anchor="end">0.2</text>
<text x="318.1" y="96.1" font-size="9.7" text-anchor="end">0.3</text>
<text x="318.1" y="61.5" font-size="9.7" text-anchor="end">0.4</text>
<text x="318.1" y="26.9" font-size="9.7" text-anchor="end">0.5</text>
<text x="60.74" y="448.4" font-size="9.7" text-anchor="middle">0.04</text>
<text x="85.21" y="448.4" font-size="9.7" text-anchor="middle">0.06</text>
<text x="109.68" y="448.4" font-size="9.7" text-anchor="middle">0.08</text>
<text x="134.15" y="448.4" font-size="9.7" text-anchor="middle">0.1</text>
<text x="158.62" y="448.4" font-size="9.7" text-anchor="middle">0.12</text>
<text x="183.09" y="448.4" font-size="9.7" text-anchor="middle">0.14</text>
<text x="207.56" y="448.4" font-size="9.7" text-anchor="middle">0.16</text>
<text x="232.03" y="448.4" font-size="9.7" text-anchor="middle">0.18</text>
<text x="256.5" y="448.4" font-size="9.7" text-anchor="middle">0.2</text>
<text x="45.1" y="441.9" font-size="9.7" text-anchor="end">0</text>
<text x="45.1" y="407.42" font-size="9.7" text-anchor="end">0.1</text>
<text x="45.1" y="372.94" font-size="9.7" text-anchor="end">0.2</text>
<text x="45.1" y="338.46" font-size="9.7" text-anchor="end">0.3</text>
<text x="45.1" y="328.12" font-size="9.7" text-anchor="end">0.33</text>
<text x="45.1" y="303.98" font-size="9.7" text-anchor="end">0.4</text>
<text x="45.1" y="269.5" font-size="9.7" text-anchor="end">0.5</text>
<text x="333.74" y="448.4" font-size="9.7" text-anchor="middle">0.04</text>
<text x="358.21" y="448.4" font-size="9.7" text-anchor="middle">0.06</text>
<text x="382.68" y="448.4" font-size="9.7" text-anchor="middle">0.08</text>
<text x="407.15" y="448.4" font-size="9.7" text-anchor="middle">0.1</text>
<text x="431.62" y="448.4" font-size="9.7" text-anchor="middle">0.12</text>
<text x="456.09" y="448.4" font-size="9.7" text-anchor="middle">0.14</text>
<text x="480.56" y="448.4" font-size="9.7" text-anchor="middle">0.16</text>
<text x="505.03" y="448.4" font-size="9.7" text-anchor="middle">0.18</text>
<text x="529.5" y="448.4" font-size="9.7" text-anchor="middle">0.2</text>
<text x="318.1" y="441.9" font-size="9.7" text-anchor="end">0</text>
<text x="318.1" y="413.17" font-size="9.7" text-anchor="end">0.1</text>
<text x="318.1" y="384.43" font-size="9.7" text-anchor="end">0.2</text>
<text x="318.1" y="355.7" font-size="9.7" text-anchor="end">0.3</text>
<text x="318.1" y="347.08" font-size="9.7" text-anchor="end">0.33</text>
<text x="318.1" y="326.97" font-size="9.7" text-anchor="end">0.4</text>
<text x="318.1" y="298.23" font-size="9.7" text-anchor="end">0.5</text>
<text x="318.1" y="269.5" font-size="9.7" text-anchor="end">0.6</text>
<text x="152.5" y="216.7" font-size="10" text-anchor="middle" font-style="italic">&#1013;</text>
<text x="425.5" y="216.7" font-size="10" text-anchor="middle" font-style="italic">&#1013;</text>
<text x="152.5" y="459.3" font-size="10" text-anchor="middle" font-style="italic">&#1013;</text>
<text x="425.5" y="459.3" font-size="10" text-anchor="middle" font-style="italic">&#1013;</text>
<text x="40.8" y="9.7" font-size="10.4" textLength="227.8" lengthAdjust="spacingAndGlyphs">(a) simulations on Facebook sample with <tspan font-style="italic">&#961;</tspan> <tspan font-size="12.2" dy="1.4">=</tspan><tspan dy="-1.4"> </tspan>0.8</text>
<text x="313.3" y="9.7" font-size="10.4" textLength="228.8" lengthAdjust="spacingAndGlyphs">(b) simulations on Facebook sample with <tspan font-style="italic">&#961;</tspan> <tspan font-size="12.2" dy="1.4">=</tspan><tspan dy="-1.4"> </tspan>0.2</text>
<text x="33.8" y="236.9" font-size="10.4" textLength="241.1" lengthAdjust="spacingAndGlyphs">(c) simulations on networks with dyadicity <tspan font-style="italic">D</tspan> <tspan font-size="13" dy="0.6">&#8776;</tspan><tspan dy="-0.6"> </tspan>1.2,</text>
<text x="29.1" y="251.5" font-size="10.4" textLength="251.1" lengthAdjust="spacingAndGlyphs">and with <tspan font-style="italic">&#961;</tspan> <tspan font-size="12.2" dy="1.4">=</tspan><tspan dy="-1.4"> </tspan>0.8 (blue plot) and <tspan font-style="italic">&#961;</tspan> <tspan font-size="12.2" dy="1.4">=</tspan><tspan dy="-1.4"> </tspan>0.2 (yellow plot)</text>
<text x="306.4" y="236.9" font-size="10.4" textLength="242" lengthAdjust="spacingAndGlyphs">(d) simulations on networks with dyadicity <tspan font-style="italic">D</tspan> <tspan font-size="13" dy="0.6">&#8776;</tspan><tspan dy="-0.6"> </tspan>1.7,</text>
<text x="302" y="251.5" font-size="10.4" textLength="251.1" lengthAdjust="spacingAndGlyphs">and with <tspan font-style="italic">&#961;</tspan> <tspan font-size="12.2" dy="1.4">=</tspan><tspan dy="-1.4"> </tspan>0.6 (blue plot) and <tspan font-style="italic">&#961;</tspan> <tspan font-size="12.2" dy="1.4">=</tspan><tspan dy="-1.4"> </tspan>0.4 (yellow plot)</text>
<text transform="translate(19.4 110.05) rotate(-90)" text-anchor="middle" font-size="10" textLength="117.5" lengthAdjust="spacingAndGlyphs">% rebels outputting &#8220;many&#8221;</text>
<text transform="translate(297.6 109.75) rotate(-90)" text-anchor="middle" font-size="10" textLength="138.3" lengthAdjust="spacingAndGlyphs">output, messaging, and total risk</text>
<text transform="translate(8.4 351.95) rotate(-90)" text-anchor="middle" font-size="10" textLength="138.1" lengthAdjust="spacingAndGlyphs">% rebels outputting &#8220;many&#8221; and</text>
<text transform="translate(19.7 352.35) rotate(-90)" text-anchor="middle" font-size="10" textLength="138.9" lengthAdjust="spacingAndGlyphs">output, messaging, and total risk</text>
<text transform="translate(281 352) rotate(-90)" text-anchor="middle" font-size="10" textLength="137.4" lengthAdjust="spacingAndGlyphs">% rebels outputting &#8220;many&#8221; and</text>
<text transform="translate(292.7 352.25) rotate(-90)" text-anchor="middle" font-size="10" textLength="138.7" lengthAdjust="spacingAndGlyphs">output, messaging, and total risk</text>
<rect x="535.5" y="23.5" width="148.3" height="51" fill="#fff" stroke="#858585" stroke-width="1"/>
<line x1="539" y1="32.4" x2="557.6" y2="32.4" stroke="#0000ff" stroke-width="0.6"/>
<circle cx="548.3" cy="32.4" r="2.4" fill="#0000ff"/>
<line x1="539" y1="43.2" x2="557.6" y2="43.2" stroke="#ffdc00" stroke-width="0.6"/>
<rect x="546.1" y="41" width="4.4" height="4.4" fill="#ffdc00"/>
<line x1="539" y1="54.5" x2="557.6" y2="54.5" stroke="#e0008a" stroke-width="0.6"/>
<path d="M548.3 51.8L550.2 54.5L548.3 57.2L546.4 54.5Z" fill="#e0008a"/>
<line x1="539" y1="67.4" x2="557.6" y2="67.4" stroke="#ff0000" stroke-width="0.6"/>
<circle cx="548.3" cy="67.4" r="2.4" fill="#ff0000"/>
<text x="559.7" y="34.7" font-size="9.6" textLength="118.6" lengthAdjust="spacingAndGlyphs">% rebels outputting &#8220;many&#8221;</text>
<text x="559.4" y="44.5" font-size="10" font-style="italic">r</text>
<text x="564" y="45.6" font-size="7.4" fill="#303030" textLength="21.8" lengthAdjust="spacingAndGlyphs">output</text>
<text x="559.4" y="58.8" font-size="10" font-style="italic">r</text>
<text x="564" y="59.7" font-size="7.4" fill="#303030" textLength="26.8" lengthAdjust="spacingAndGlyphs">message</text>
<text x="593.8" y="59.6" font-size="10" textLength="7.7" lengthAdjust="spacingAndGlyphs">=</text>
<text x="602.6" y="58.4" font-size="10" font-style="italic">&#1013;</text>
<text x="607.8" y="58.6" font-size="10" textLength="4.8" lengthAdjust="spacingAndGlyphs">/</text>
<text x="612.4" y="59.4" font-size="10" textLength="6.8" lengthAdjust="spacingAndGlyphs">&#8730;</text>
<line x1="618.6" y1="50.4" x2="625.6" y2="50.4" stroke="#484848" stroke-width="0.5"/>
<text x="619.6" y="58.6" font-size="10" textLength="5.6" lengthAdjust="spacingAndGlyphs">2</text>
<text x="559.4" y="70.3" font-size="10" font-style="italic">r</text>
<text x="564.7" y="71.3" font-size="7.4" fill="#303030" textLength="14.8" lengthAdjust="spacingAndGlyphs">total</text>
<text x="584.6" y="71.2" font-size="10" textLength="6.7" lengthAdjust="spacingAndGlyphs">=</text>
<text x="593" y="70.3" font-size="10" font-style="italic">r</text>
<text x="597.9" y="71.3" font-size="7.4" fill="#303030" textLength="21.5" lengthAdjust="spacingAndGlyphs">output</text>
<text x="622.9" y="71.2" font-size="10" textLength="6.1" lengthAdjust="spacingAndGlyphs">+</text>
<text x="631.8" y="70.3" font-size="10" font-style="italic">r</text>
<text x="636.2" y="71.3" font-size="7.4" fill="#303030" textLength="27" lengthAdjust="spacingAndGlyphs">message</text>
</svg>
</body></html>
